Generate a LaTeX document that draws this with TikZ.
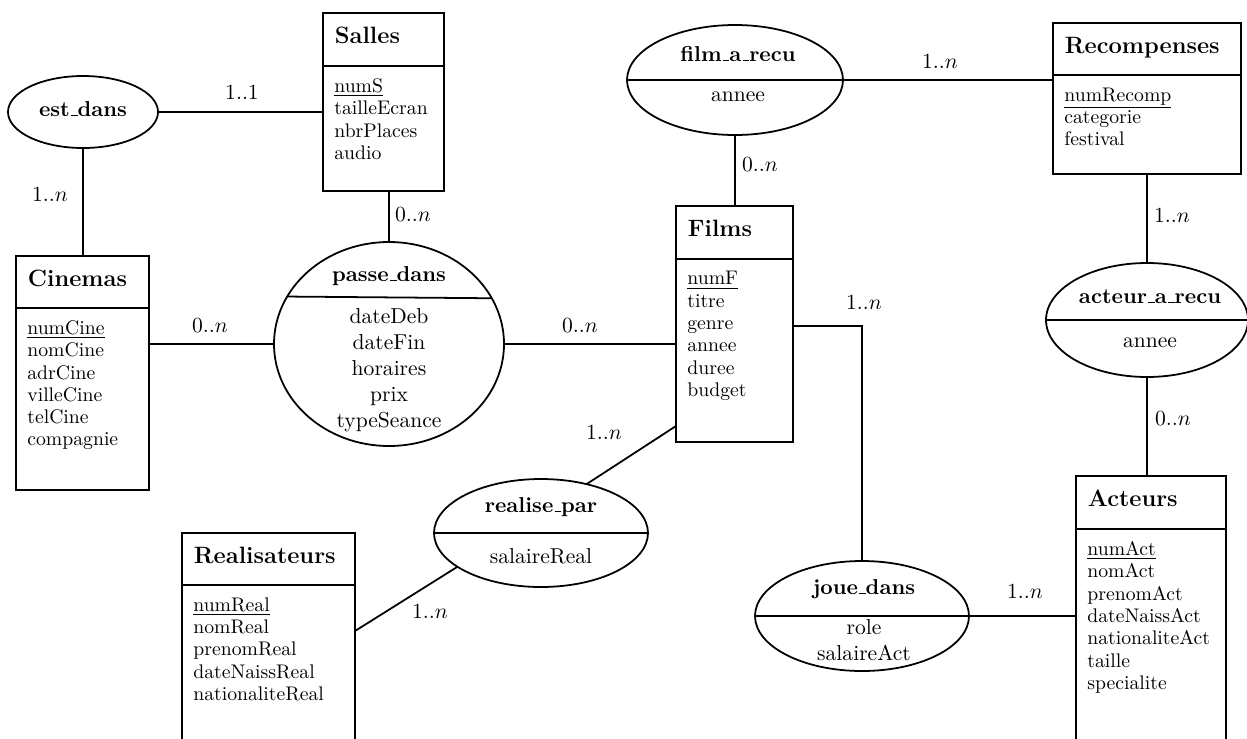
\documentclass[tikz,border=0pt]{standalone}
\usetikzlibrary{shapes.geometric,calc}
\newlength\pxu
\setlength\pxu{0.5076pt}
\newcommand\usc{\leavevmode\kern.06em\vbox{\hrule width.3em height 0.45pt}}
\tikzset{
  ebox/.style={draw, rectangle, inner sep=0pt, outer sep=0pt, anchor=north west},
  etitle/.style={inner sep=0pt, anchor=base west, font=\fontsize{12}{14}\selectfont\bfseries},
  eattr/.style={inner sep=0pt, anchor=north west, align=left, font=\fontsize{10}{11.3}\selectfont},
  rel/.style={draw, ellipse, inner sep=0pt, outer sep=0pt},
  rtitle/.style={inner sep=0pt, anchor=base, font=\fontsize{10.95}{13.2}\selectfont\bfseries},
  rattr/.style={inner sep=0pt, anchor=base, font=\fontsize{10.95}{13.2}\selectfont},
  rattrs/.style={inner sep=0pt, anchor=north, align=center, font=\fontsize{10.95}{13.2}\selectfont},
  card/.style={inner sep=0pt, anchor=base, font=\fontsize{10.95}{13.2}\selectfont},
}
% name, left, top, right, divider, bottom, title, attributes
\newcommand\entity[8]{%
  \node[ebox, minimum width={(#4-#2)*\pxu}, minimum height={(#5-#3)*\pxu}] (#1) at (#2,#3) {};
  \node[ebox, minimum width={(#4-#2)*\pxu}, minimum height={(#6-#5)*\pxu}] (#1-b) at (#2,#5) {};
  \node[etitle] (#1-t) at (#2+11,#3+30.5) {#7};
  \node[eattr] (#1-a) at (#2+10.5,#5+11.7) {#8};
}
% name, cx, cy, rx, ry
\newcommand\relation[5]{%
  \node[rel, minimum width={2*#4*\pxu}, minimum height={2*#5*\pxu}] (#1) at (#2,#3) {};
}
\begin{document}
\begin{tikzpicture}[x=0.5076pt, y=-0.5076pt, line width=0.9pt]
\useasboundingbox (0,0) rectangle (1247,738);
\clip (0,0) rectangle (1247,738);

% entities
\entity{salles}{323}{13}{444}{66}{191}{Salles}{\underline{numS}\\tailleEcran\\nbrPlaces\\audio}
\entity{cinemas}{16}{256}{149}{308}{490}{Cinemas}{\underline{numCine}\\nomCine\\adrCine\\villeCine\\telCine\\compagnie}
\entity{films}{676}{206}{793}{259}{442}{Films}{\underline{numF}\\titre\\genre\\annee\\duree\\budget}
\entity{recomp}{1053}{23}{1241}{75}{174}{Recompenses}{\underline{numRecomp}\\categorie\\festival}
\entity{real}{182}{533}{355}{585}{745}{Realisateurs}{\underline{numReal}\\nomReal\\prenomReal\\dateNaissReal\\nationaliteReal}
\entity{acteurs}{1076}{476}{1226}{529}{745}{Acteurs}{\underline{numAct}\\nomAct\\prenomAct\\dateNaissAct\\nationaliteAct\\taille\\specialite}

% relations
\relation{estdans}{83}{112}{75}{36}
\node[rtitle] (estdans-t) at (83,116) {est\usc dans};

\relation{passe}{389}{344}{115}{102}
\draw (passe.155.3) -- (passe.24.7);
\node[rtitle] (passe-t) at (389,281) {passe\usc dans};
\node[rattrs] (passe-a) at (389,308) {dateDeb\\dateFin\\horaires\\prix\\typeSeance};

\relation{film}{735}{80}{108}{55}
\draw (film.west) -- (film.east);
\node[rtitle] (film-t) at (738,61) {film\usc a\usc recu};
\node[rattr] (film-a) at (738,101) {annee};

\relation{acteur}{1147}{320}{101}{57}
\draw (acteur.west) -- (acteur.east);
\node[rtitle] (acteur-t) at (1150,303) {acteur\usc a\usc recu};
\node[rattr] (acteur-a) at (1150,347) {annee};

\relation{realise}{541}{533}{107}{54}
\draw (realise.west) -- (realise.east);
\node[rtitle] (realise-t) at (541,512) {realise\usc par};
\node[rattr] (realise-a) at (541,563) {salaireReal};

\relation{joue}{862}{616}{107}{55}
\draw (joue.west) -- (joue.east);
\node[rtitle] (joue-t) at (864,594) {joue\usc dans};
\node[rattrs] (joue-a) at (864,619) {role\\salaireAct};

% connectors
\draw (estdans.east) -- (estdans.east -| salles-b.west);
\node[card] (c1) at (242,99.5) {1..1};
\draw (estdans.south) -- (estdans.south |- cinemas.north);
\node[card] (c2) at (50,201) {1..$n$};
\draw (passe.north |- salles-b.south) -- (passe.north);
\node[card] (c3) at (413,221) {0..$n$};
\draw (passe.west -| cinemas-b.east) -- (passe.west);
\node[card] (c4) at (210,332) {0..$n$};
\draw (passe.east) -- (passe.east -| films-b.west);
\node[card] (c5) at (580,332) {0..$n$};
\draw (film.south) -- (film.south |- films.north);
\node[card] (c6) at (760,171) {0..$n$};
\draw (film.east) -- (film.east -| recomp-b.west);
\node[card] (c7) at (940,68) {1..$n$};
\draw (acteur.north |- recomp-b.south) -- (acteur.north);
\node[card] (c8) at (1172,222) {1..$n$};
\draw (acteur.south) -- (acteur.south |- acteurs.north);
\node[card] (c9) at (1173,425) {0..$n$};
\coordinate (fj) at ($(films-b.north east)+(0,67)$);
\draw (fj) -| (joue.north);
\node[card] (c10) at (864,309) {1..$n$};
\draw (joue.east) -- (joue.east -| acteurs-b.west);
\node[card] (c11) at (1025,598) {1..$n$};
\coordinate (fr) at ($(films-b.south west)+(0,-16)$);
\draw (fr) -- (realise.47);
\node[card] (c12) at (604,439) {1..$n$};
\coordinate (rr) at ($(real-b.north east)+(0,46)$);
\draw (realise.202) -- (rr);
\node[card] (c13) at (430,618) {1..$n$};
\end{tikzpicture}
\end{document}
